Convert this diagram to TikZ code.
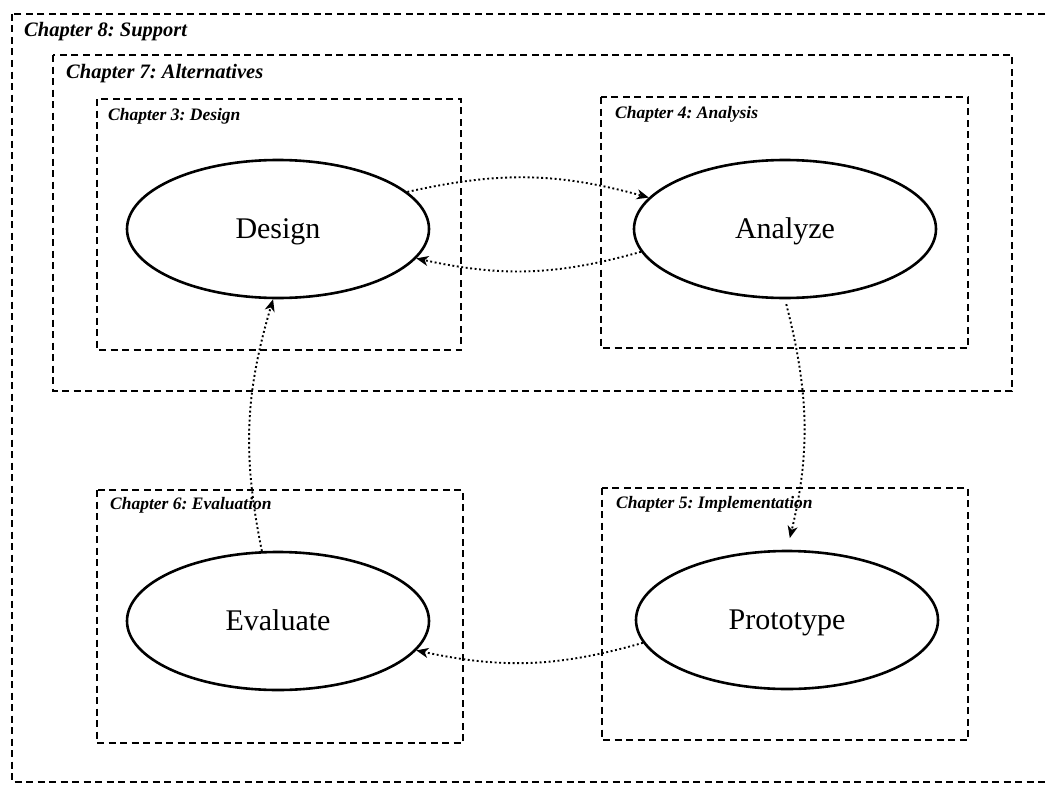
\documentclass[tikz,border=0pt]{standalone}
\usepackage{fontspec}
\setmainfont{Liberation Serif}
\usetikzlibrary{shapes.geometric,arrows.meta}
\frenchspacing

\begin{document}
\begin{tikzpicture}[x=1pt,y=-1pt,
  chapbox/.style={draw, line width=2pt, dash pattern=on 7pt off 4.5pt},
  chaplabel/.style={anchor=base west, inner sep=0pt, font=\fontsize{17.5}{20}\selectfont\bfseries\itshape},
  biglabel/.style={chaplabel, font=\fontsize{20.5}{24}\selectfont\bfseries\itshape},
  stage/.style={ellipse, draw, line width=2.6pt, minimum width=302pt, minimum height=138pt,
    inner sep=0pt, text height=19.8pt, text depth=0pt, font=\fontsize{30}{36}\selectfont},
  flow/.style={line width=1.9pt, dash pattern=on 1.9pt off 2.6pt,
    -{Stealth[length=12pt,width=10pt,inset=3.5pt]}, bend left=14}]

% page frame
\useasboundingbox (0,0) rectangle (1046,784);
\clip (0,0) rectangle (1046,784);

% nested chapter regions
\draw[chapbox] (12,14) rectangle (1060,782);
\draw[chapbox] (53,55) rectangle (1012,391);
\draw[chapbox] (97,99) rectangle (461,350);
\draw[chapbox] (601,97) rectangle (968,348);
\draw[chapbox] (97,490) rectangle (463,743);
\draw[chapbox] (602,488) rectangle (968,740);

% chapter captions
\node[biglabel] (l8) at (24,37) {Chapter 8: Support};
\node[biglabel] (l7) at (66,78) {Chapter 7: Alternatives};
\node[chaplabel] (l3) at (108,120) {Chapter 3: Design};
\node[chaplabel] (l4) at (615,118) {Chapter 4: Analysis};
\node[chaplabel] (l6) at (110,509) {Chapter 6: Evaluation};
\node[chaplabel] (l5) at (616,508) {Chapter 5: Implementation};

% activities
\node[stage] (design)   at (278,229) {Design};
\node[stage] (analyze)  at (785,229) {Analyze};
\node[stage] (evaluate) at (278,621) {Evaluate};
\node[stage] (proto)    at (787,620) {Prototype};

% process cycle
\draw[flow] (design.16) to (analyze.167);
\draw[flow] (analyze.189) to (design.348);
\draw[flow, shorten <=5pt, shorten >=12pt] (analyze.south) to (proto.north);
\draw[flow] (proto.189) to (evaluate.348);
\draw[flow] (evaluate.103) to (design.266);
\end{tikzpicture}
\end{document}
